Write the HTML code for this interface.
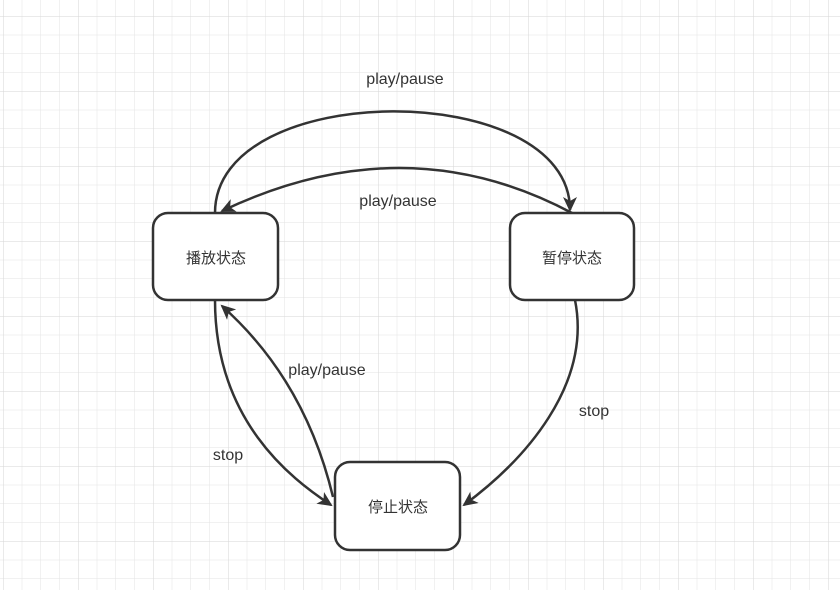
<!DOCTYPE html>
<html><head><meta charset="utf-8"><style>
body{margin:0;width:840px;height:590px;overflow:hidden;background:#fff;}
svg{display:block}
text{font-family:"Liberation Sans","Noto Sans CJK SC",sans-serif;fill:#333;}
</style></head><body>
<svg width="840" height="590" viewBox="0 0 840 590" xmlns="http://www.w3.org/2000/svg">
<defs>
<pattern id="g" x="3" y="16" width="18.75" height="18.75" patternUnits="userSpaceOnUse">
<path d="M0 0H18.75M0 0V18.75" stroke="#e3e3e3" stroke-width="1" fill="none"/>
</pattern>
<pattern id="G" x="3" y="16" width="75" height="75" patternUnits="userSpaceOnUse">
<path d="M0 0H75M0 0V75" stroke="#d6d6d6" stroke-width="1" fill="none"/>
</pattern>
<marker id="a" markerWidth="16" markerHeight="14" refX="13" refY="7" orient="auto" markerUnits="userSpaceOnUse">
<path d="M0,0 L15,7 L0,14 L4,7 Z" fill="#333"/>
</marker>
</defs>
<rect width="840" height="590" fill="url(#g)"/>
<rect width="840" height="590" fill="url(#G)"/>
<g fill="none" stroke="#333" stroke-width="2.5">
<path d="M215,213 C215,78 570,78 570,210" marker-end="url(#a)"/>
<path d="M572,213 Q405,124 222,211" marker-end="url(#a)"/>
<path d="M215,300 C215,420 290,478 331,505" marker-end="url(#a)"/>
<path d="M333,497 Q305,380 222,306" marker-end="url(#a)"/>
<path d="M575,300 C592,385 525,460 464,505" marker-end="url(#a)"/>
</g>
<g fill="#fff" stroke="#333" stroke-width="2.5">
<rect x="153" y="213" width="125" height="87" rx="15"/>
<rect x="510" y="213" width="124" height="87" rx="15"/>
<rect x="335" y="462" width="125" height="88" rx="15"/>
</g>
<g font-size="15" text-anchor="middle">
<text x="216" y="263">播放状态</text>
<text x="572" y="263">暂停状态</text>
<text x="398" y="512">停止状态</text>
</g>
<g font-size="16" text-anchor="middle">
<text x="405" y="84">play/pause</text>
<text x="398" y="206">play/pause</text>
<text x="327" y="375">play/pause</text>
<text x="228" y="460">stop</text>
<text x="594" y="416">stop</text>
</g>
</svg>
</body></html>
